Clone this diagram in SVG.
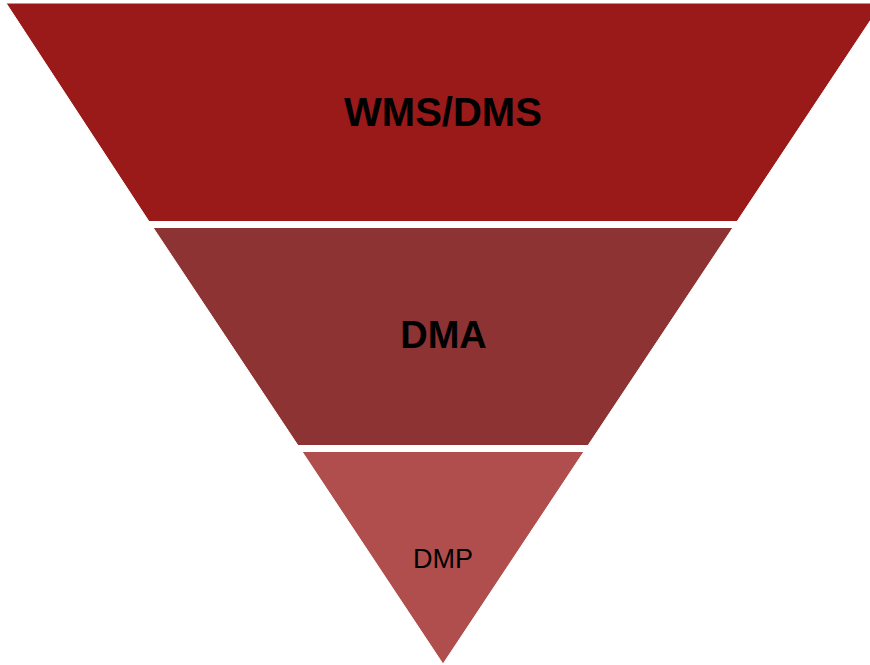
<svg xmlns="http://www.w3.org/2000/svg" width="870" height="665" viewBox="0 0 870 665">
<style>
.seg{stroke:#ffffff;stroke-width:1}
.lbl{font-family:"Liberation Sans",Arial,sans-serif;fill:#000000;text-anchor:middle}
.b{font-weight:bold}
</style>
<rect width="870" height="665" fill="#ffffff"/>
<g id="wms-dms">
<polygon class="seg" points="6,3 882,3 737,221.5 149,221.5" fill="#9A1A1A"/>
<text class="lbl b" x="443" y="126" font-size="40">WMS/DMS</text>
</g>
<g id="dma">
<polygon class="seg" points="153,227.5 733,227.5 588,445.5 298,445.5" fill="#8E3333"/>
<text class="lbl b" x="443.5" y="348" font-size="38">DMA</text>
</g>
<g id="dmp">
<polygon class="seg" points="302,451.5 584,451.5 443,664" fill="#B04E4E"/>
<text class="lbl" x="443" y="568" font-size="27">DMP</text>
</g>
<g id="connectors"></g>
</svg>
